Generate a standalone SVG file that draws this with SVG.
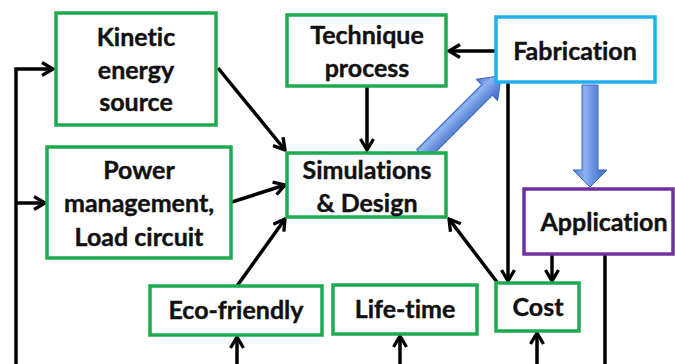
<svg xmlns="http://www.w3.org/2000/svg" width="675" height="364" viewBox="0 0 675 364">
<defs>
<style>
.g{fill:#fff;stroke:#1EAA4E;stroke-width:3.5}
.b{fill:#fff;stroke:#1FB0EC;stroke-width:3.5}
.p{fill:#fff;stroke:#7030A0;stroke-width:3.5}
.t{font-family:Lato,"Open Sans",sans-serif;font-weight:bold;font-size:25px;fill:#111;text-anchor:middle;stroke:#111;stroke-width:0.4;font-variant-ligatures:none;font-feature-settings:"liga" 0}
.c{fill:none;stroke:#000;stroke-width:3.5}
.ba{stroke:#3A66BE;stroke-width:1;stroke-linejoin:round}
</style>
<marker id="ah2" viewBox="0 0 16 16" refX="14" refY="8" markerWidth="16" markerHeight="16" markerUnits="userSpaceOnUse" orient="auto">
<polyline points="3,1.5 14,8 3,14.5" fill="none" stroke="#000" stroke-width="3.3"/>
</marker>
<linearGradient id="bg" x1="0" y1="0" x2="1" y2="0">
<stop offset="0" stop-color="#4A78D0"/>
<stop offset="0.35" stop-color="#8EB2F0"/>
<stop offset="0.6" stop-color="#6790DE"/>
<stop offset="1" stop-color="#3A66C2"/>
</linearGradient>
<linearGradient id="bgd" x1="0" y1="0" x2="0" y2="1">
<stop offset="0" stop-color="#4A78D0"/>
<stop offset="0.35" stop-color="#8EB2F0"/>
<stop offset="0.6" stop-color="#6790DE"/>
<stop offset="1" stop-color="#3A66C2"/>
</linearGradient>
</defs>
<g id="connectors">
<polyline class="c" points="16,364 16,69 53,69" marker-end="url(#ah2)"/>
<line class="c" x1="16" y1="203" x2="45" y2="203" marker-end="url(#ah2)"/>
<line class="c" x1="218" y1="68" x2="285" y2="150" marker-end="url(#ah2)"/>
<line class="c" x1="232" y1="202" x2="285" y2="185" marker-end="url(#ah2)"/>
<line class="c" x1="237" y1="286" x2="285" y2="219" marker-end="url(#ah2)"/>
<line class="c" x1="367" y1="87" x2="367" y2="150" marker-end="url(#ah2)"/>
<line class="c" x1="496" y1="51" x2="449" y2="51" marker-end="url(#ah2)"/>
<line class="c" x1="508" y1="83" x2="508" y2="281" marker-end="url(#ah2)"/>
<line class="c" x1="552" y1="255" x2="552" y2="281" marker-end="url(#ah2)"/>
<line class="c" x1="497" y1="282" x2="449" y2="219" marker-end="url(#ah2)"/>
<line class="c" x1="605" y1="255" x2="605" y2="364"/>
<line class="c" x1="237" y1="364" x2="237" y2="337" marker-end="url(#ah2)"/>
<line class="c" x1="400" y1="364" x2="400" y2="336" marker-end="url(#ah2)"/>
<line class="c" x1="537" y1="364" x2="537" y2="333" marker-end="url(#ah2)"/>
<g transform="translate(422,155) rotate(-45)">
<polygon class="ba" fill="url(#bgd)" points="0,-7.5 92,-7.5 92,-15 112,0 92,15 92,7.5 0,7.5"/>
</g>
<polygon class="ba" fill="url(#bg)" points="582,85 598,85 598,170 607,170 590,187 573,170 582,170"/>
</g>
<g id="kinetic"><rect class="g" x="56" y="13" width="160" height="112"/>
<text class="t" x="136" y="46">Kinetic</text><text class="t" x="136" y="79">energy</text><text class="t" x="136" y="111">source</text></g>
<g id="technique"><rect class="g" x="287" y="15" width="159" height="71"/>
<text class="t" x="367" y="44">Technique</text><text class="t" x="367" y="77">process</text></g>
<g id="fabrication"><rect class="b" x="496" y="17" width="159" height="65"/>
<text class="t" x="575" y="60">Fabrication</text></g>
<g id="power"><rect class="g" x="47" y="147" width="184" height="111"/>
<text class="t" x="139" y="179">Power</text><text class="t" x="139" y="212">management,</text><text class="t" x="139" y="246">Load circuit</text></g>
<g id="simulations"><rect class="g" x="287" y="153" width="159" height="64"/>
<text class="t" x="367" y="179">Simulations</text><text class="t" x="367" y="212">&amp; Design</text></g>
<g id="application"><rect class="p" x="524" y="189" width="149" height="65"/>
<text class="t" x="604" y="231">Application</text></g>
<g id="eco"><rect class="g" x="150" y="286" width="172" height="49"/>
<text class="t" x="236" y="319">Eco-friendly</text></g>
<g id="lifetime"><rect class="g" x="333" y="285" width="144" height="49"/>
<text class="t" x="405" y="318">Life-time</text></g>
<g id="cost"><rect class="g" x="496" y="283" width="83" height="48"/>
<text class="t" x="538" y="316">Cost</text></g>
</svg>
